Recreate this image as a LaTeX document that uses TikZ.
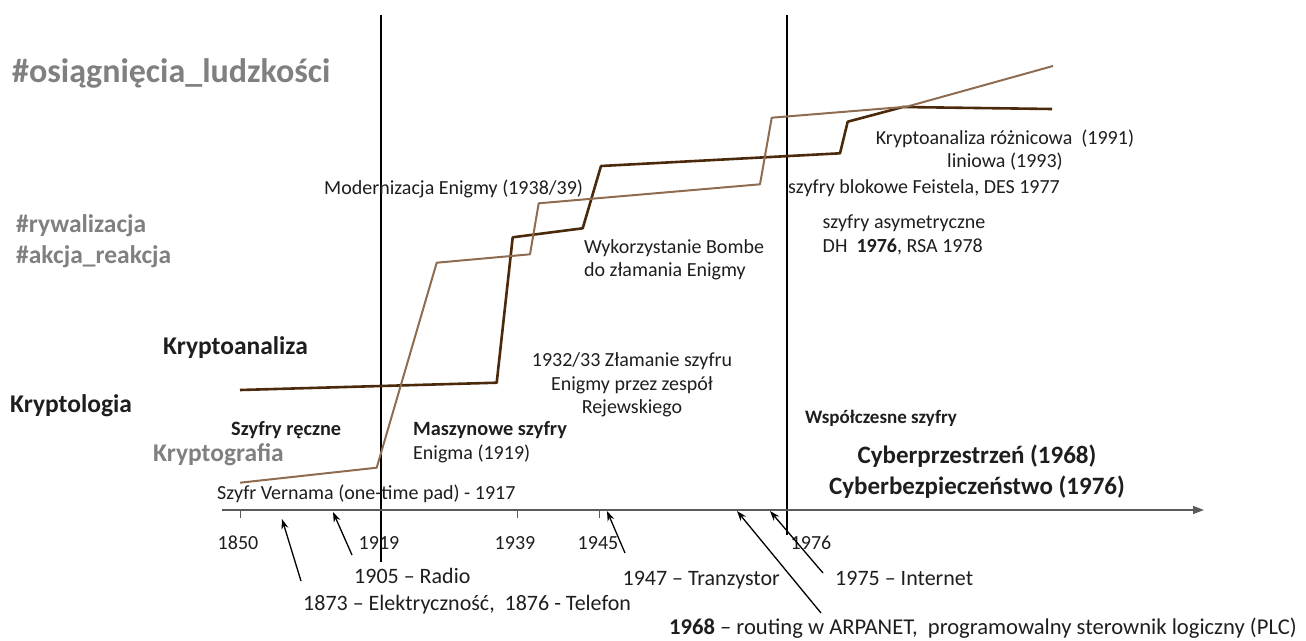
\documentclass[tikz,border=0pt]{standalone}
\usepackage{fontspec}
\setmainfont{Carlito}
\usetikzlibrary{arrows.meta}

\definecolor{analizacol}{HTML}{4B2A0C}
\definecolor{grafiacol}{HTML}{8E6C52}
\definecolor{hashcol}{HTML}{808080}
\definecolor{txtcol}{HTML}{1E1E1E}
\definecolor{axiscol}{HTML}{5A5A5A}

\tikzset{
  txt/.style={inner sep=0pt, text=txtcol, font=\fontsize{20}{23.5}\selectfont},
  evt/.style={inner sep=0pt, text=txtcol, font=\fontsize{22}{26}\selectfont},
  era/.style={inner sep=0pt, text=txtcol, font=\bfseries\fontsize{20.3}{24}\selectfont},
  hashtag/.style={inner sep=0pt, text=hashcol, font=\bfseries\fontsize{25.5}{31}\selectfont},
  branch/.style={inner sep=0pt, font=\bfseries\fontsize{25.5}{30}\selectfont},
  evtarrow/.style={line width=1.3pt, black, -{Stealth[length=10pt,width=7pt]}},
  boundary/.style={line width=1.2pt, black},
}

\begin{document}
\begin{tikzpicture}[x=1pt,y=-1pt]
    \useasboundingbox (0,0) rectangle (1306,640);

    % titles on the left
    \node[hashtag, font=\bfseries\fontsize{34}{40}\selectfont, anchor=mid west] (ludzkosc) at (12,80) {\#osiągnięcia\_ludzkości};
    \node[hashtag, anchor=west, align=left] (rywal) at (16,241) {\#rywalizacja\\\#akcja\_reakcja};
    \node[branch, text=txtcol, anchor=mid west] (kanaliza) at (163,352) {Kryptoanaliza};
    \node[branch, text=txtcol, anchor=mid west] (kologia) at (10,410) {Kryptologia};
    \node[branch, text=hashcol, anchor=mid west] (kgrafia) at (153,459) {Kryptografia};

    % era boundaries
    \coordinate (b1919top) at (381,15);
    \coordinate (b1919bot) at (381,562);
    \coordinate (b1976top) at (787,15);
    \coordinate (b1976bot) at (787,535);
    \draw[boundary] (b1919top) -- (b1919bot);
    \draw[boundary] (b1976top) -- (b1976bot);

    % time axis
    \coordinate (axstart) at (222,510);
    \coordinate (axend) at (1204,510);
    \draw[axiscol, line width=1.2pt, -{Triangle[length=11pt,width=8pt]}] (axstart) -- (axend);
    \foreach \x in {240,517,599}
        \draw[axiscol, line width=1pt] (\x,510) -- (\x,518);
    \node[txt] (y1850) at (238,543) {1850};
    \node[txt] (y1919) at (379,543) {1919};
    \node[txt] (y1939) at (515,543) {1939};
    \node[txt] (y1945) at (598,543) {1945};
    \node[txt] (y1976) at (811,543) {1976};

    % cryptanalysis and cryptography curves
    \draw[analizacol, line width=2.6pt, line join=round] (240,390) -- (496.7,382.7) -- (512.7,237.3) -- (582.7,228.3) -- (601,166) -- (840,153.3) -- (847.7,121.7) -- (903,107) -- (1052,109);
    \draw[grafiacol, line width=2pt, line join=round] (240,482.7) -- (376.7,467.7) -- (436.7,262.7) -- (530,254.3) -- (538.7,203.3) -- (760,184.3) -- (771.7,117.7) -- (906.7,106.7) -- (1053,66);

    % eras
    \node[era, anchor=mid west] (reczne) at (231,433) {Szyfry ręczne};
    \node[era, anchor=mid west] (maszynowe) at (413,433) {Maszynowe szyfry};
    \node[txt, anchor=mid west] (enigma) at (413,457) {Enigma (1919)};
    \node[era, font=\bfseries\fontsize{19}{23}\selectfont, anchor=mid west] (wspolczesne) at (805,421) {Współczesne szyfry};
    \node[branch, text=txtcol, align=center, font=\bfseries\fontsize{25}{31}\selectfont] (cyber) at (977,472) {Cyberprzestrzeń (1968)\\Cyberbezpieczeństwo (1976)};

    % cipher milestones
    \node[txt, anchor=mid west] (vernam) at (217,497) {Szyfr Vernama (one-time pad) - 1917};
    \node[txt, align=center] (rejewski) at (632,385) {1932/33 Złamanie szyfru\\Enigmy przez zespół\\Rejewskiego};
    \node[txt, anchor=mid west] (moderniz) at (324,192) {Modernizacja Enigmy (1938/39)};
    \node[txt, align=left] (bombe) at (674,260) {Wykorzystanie Bombe\\do złamania Enigmy};
    \node[txt, align=center] (roznicowa) at (1005,150) {Kryptoanaliza różnicowa\ \ (1991)\\liniowa (1993)};
    \node[txt, anchor=mid west] (feistel) at (788,191) {szyfry blokowe Feistela, DES 1977};
    \node[txt, align=left] (asym) at (904,235) {szyfry asymetryczne\\DH\ \ \textbf{1976}, RSA 1978};

    % technology events
    \node[evt, anchor=mid west] (radio) at (354,581) {1905 – Radio};
    \node[evt, anchor=mid west] (telefon) at (303,608) {1873 – Elektryczność,\ \ 1876 - Telefon};
    \node[evt, anchor=mid east] (tranzystor) at (780,583) {1947 – Tranzystor};
    \node[evt, anchor=mid west] (internet) at (835,583) {1975 – Internet};
    \node[evt, font=\fontsize{22.6}{26}\selectfont, anchor=mid west] (arpanet) at (669,632) {\textbf{1968} – routing w ARPANET,\ \ programowalny sterownik logiczny (PLC)};

    \coordinate (t1873) at (301,581);
    \coordinate (h1873) at (282,519);
    \coordinate (t1905) at (352,555);
    \coordinate (h1905) at (333,512);
    \coordinate (t1947) at (625,553);
    \coordinate (h1947) at (607,511);
    \coordinate (t1968) at (821,613);
    \coordinate (h1968) at (737,511);
    \coordinate (t1975) at (823,573);
    \coordinate (h1975) at (770,511);
    \draw[evtarrow] (t1873) -- (h1873);
    \draw[evtarrow] (t1905) -- (h1905);
    \draw[evtarrow] (t1947) -- (h1947);
    \draw[evtarrow] (t1968) -- (h1968);
    \draw[evtarrow] (t1975) -- (h1975);
\end{tikzpicture}
\end{document}
